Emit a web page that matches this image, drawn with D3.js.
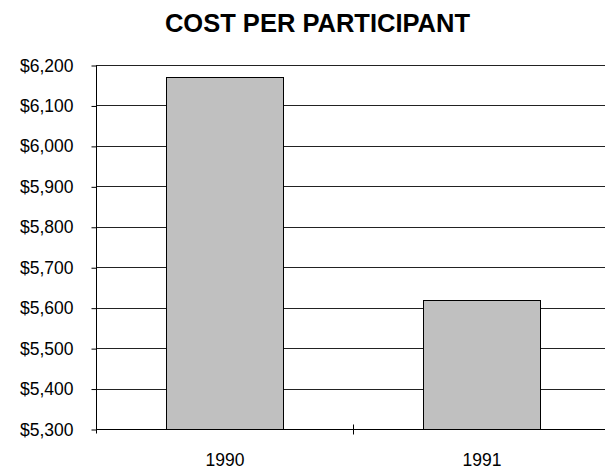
<!DOCTYPE html>
<html><head><meta charset="utf-8">
<script src="https://cdn.jsdelivr.net/npm/d3@7"></script>
<style>body{margin:0;background:#fff}svg{display:block}text{font-family:"Liberation Sans",Arial,sans-serif;fill:#000}</style>
</head><body>
<svg id="c" width="605" height="470"></svg>
<script>
const title = "COST PER PARTICIPANT";
const categories = ["1990", "1991"];
const values = [6170, 5620];
const yTicks = [5300, 5400, 5500, 5600, 5700, 5800, 5900, 6000, 6100, 6200];

(function () {
const svg = d3.select("#c");
const pL = 96, pR = 610, pT = 65, pB = 429;
const x = d3.scaleBand().domain(categories).range([pL, pR]).paddingInner(0).paddingOuter(0);
const y = d3.scaleLinear().domain([5300, 6200]).range([pB, pT]);
const fmt = d => "$" + d3.format(",")(d);

// gridlines
svg.append("g").selectAll("line").data(yTicks).join("line")
  .attr("x1", pL).attr("x2", pR)
  .attr("y1", d => Math.round(y(d)) + 0.5).attr("y2", d => Math.round(y(d)) + 0.5)
  .attr("stroke", "#222").attr("stroke-width", 1);

// bars
const bw = x.bandwidth() * 0.457;
svg.append("g").selectAll("rect").data(values).join("rect")
  .attr("x", (d, i) => Math.round(x(categories[i]) + x.bandwidth() / 2 - bw / 2) + 0.5)
  .attr("width", Math.round(bw))
  .attr("y", d => Math.round(y(d)) + 0.5)
  .attr("height", d => Math.round(y(5300)) - Math.round(y(d)))
  .attr("fill", "#c0c0c0").attr("stroke", "#000").attr("stroke-width", 1);

// y axis
const ya = svg.append("g").attr("transform", `translate(${pL + 0.5},0.5)`)
  .call(d3.axisLeft(y).tickValues(yTicks).tickFormat(fmt).tickSize(5).tickPadding(18));
ya.select(".domain").attr("d", `M0,${pT}V${pB + 4}`).attr("stroke", "#000");
ya.selectAll(".tick line").attr("stroke", "#000");
ya.selectAll("text").style("font-size", "17.5px").attr("fill", "#000");

// x axis
const xa = svg.append("g").attr("transform", `translate(0.5,${Math.round(pB) + 0.5})`);
xa.append("line").attr("x1", pL).attr("x2", pR).attr("stroke", "#000");
const bounds = categories.map(c => x(c)).concat([x.range()[1]]).slice(1);
xa.selectAll("line.t").data(bounds).join("line").attr("class", "t")
  .attr("x1", d => Math.round(d)).attr("x2", d => Math.round(d))
  .attr("y1", -5).attr("y2", 5).attr("stroke", "#000");
xa.selectAll("text").data(categories).join("text")
  .attr("x", d => x(d) + x.bandwidth() / 2).attr("y", 36.5)
  .attr("text-anchor", "middle").style("font-size", "17.5px").text(d => d);

// title
svg.append("text").attr("x", 317.5).attr("y", 32).attr("text-anchor", "middle")
  .style("font-size", "25.5px").style("font-weight", "bold").text(title);
})();
</script>
</body></html>
